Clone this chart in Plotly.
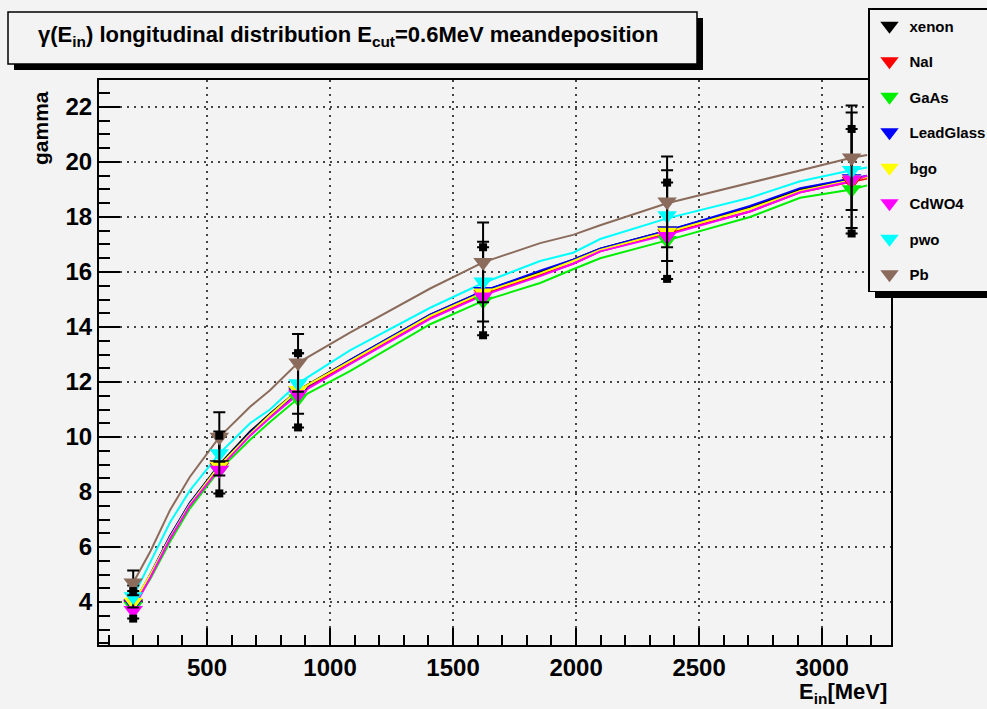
import plotly.graph_objects as go

# ---------------- data ----------------
series_names = ["xenon", "NaI", "GaAs", "LeadGlass", "bgo", "CdWO4", "pwo", "Pb"]
series_colors = ["#000000", "#ff0000", "#00ee00", "#0000ff", "#ffff00", "#ff00ff", "#00ffff", "#8b6b5b"]

curve_x = [200, 270, 350, 430, 550, 675, 756, 870, 1081, 1407, 1622, 1854, 1988, 2098, 2370, 2707, 2911, 3120, 3183]
curve_xenon = [3.9, 5.0, 6.4, 7.6, 9.0, 10.2, 10.85, 11.7, 12.8, 14.45, 15.3, 16.0, 16.45, 16.85, 17.5, 18.35, 19.0, 19.4, 19.45]
curve_NaI = [3.85, 4.95, 6.35, 7.55, 8.9, 10.1, 10.75, 11.6, 12.7, 14.35, 15.2, 15.9, 16.3, 16.75, 17.4, 18.2, 18.9, 19.3, 19.4]
curve_GaAs = [3.85, 4.85, 6.2, 7.4, 8.8, 9.9, 10.55, 11.4, 12.4, 14.1, 14.95, 15.6, 16.1, 16.5, 17.15, 18.0, 18.7, 19.0, 19.15]
curve_LeadGlass = [3.9, 5.0, 6.4, 7.6, 8.95, 10.15, 10.8, 11.65, 12.8, 14.45, 15.3, 16.05, 16.45, 16.85, 17.5, 18.4, 19.05, 19.4, 19.5]
curve_bgo = [3.95, 5.0, 6.35, 7.55, 8.95, 10.1, 10.8, 11.7, 12.75, 14.4, 15.25, 15.95, 16.4, 16.8, 17.45, 18.3, 18.95, 19.35, 19.45]
curve_CdWO4 = [3.75, 4.9, 6.3, 7.5, 8.85, 10.05, 10.7, 11.55, 12.65, 14.3, 15.15, 15.85, 16.3, 16.75, 17.35, 18.2, 18.9, 19.3, 19.5]
curve_pwo = [4.2, 5.45, 6.9, 8.05, 9.4, 10.5, 11.0, 11.95, 13.15, 14.7, 15.6, 16.4, 16.7, 17.2, 17.95, 18.7, 19.3, 19.7, 19.8]
curve_Pb = [4.7, 5.85, 7.35, 8.55, 10.0, 11.1, 11.7, 12.7, 13.8, 15.4, 16.35, 17.05, 17.35, 17.7, 18.5, 19.25, 19.7, 20.15, 20.25]

point_x = [200, 550, 870, 1622, 2370, 3120]
point_xenon = [3.9, 9.0, 11.7, 15.3, 17.5, 19.3]
point_NaI = [3.9, 8.9, 11.6, 15.2, 17.4, 19.3]
point_GaAs = [3.85, 8.8, 11.4, 14.95, 17.15, 19.0]
point_LeadGlass = [3.95, 8.95, 11.65, 15.3, 17.5, 19.4]
point_bgo = [4.0, 8.95, 11.7, 15.25, 17.45, 19.35]
point_CdWO4 = [3.7, 8.8, 11.55, 15.1, 17.3, 19.35]
point_pwo = [4.2, 9.4, 11.95, 15.65, 18.05, 19.7]
point_Pb = [4.7, 10.0, 12.7, 16.35, 18.55, 20.15]

err_xenon = [0.5, 1.05, 1.35, 1.6, 1.75, 1.9]
err_pwo = [0.4, 0.8, 1.1, 1.45, 1.65, 2.1]
err_Pb = [0.45, 0.9, 1.05, 1.45, 1.65, 1.9]

x_tick_vals = [500, 1000, 1500, 2000, 2500, 3000]
y_tick_vals = [4, 6, 8, 10, 12, 14, 16, 18, 20, 22]

curves = [curve_xenon, curve_NaI, curve_GaAs, curve_LeadGlass, curve_bgo, curve_CdWO4, curve_pwo, curve_Pb]
points = [point_xenon, point_NaI, point_GaAs, point_LeadGlass, point_bgo, point_CdWO4, point_pwo, point_Pb]
errors = {"xenon": err_xenon, "pwo": err_pwo, "Pb": err_Pb}

# ---------------- layout geometry (pixels) ----------------
W, H = 987, 709
L, R, T, B = 99, 891, 80, 645
pw, ph = R - L, B - T


def px(xp):
    return (xp - L) / pw


def py(yp):
    return (B - yp) / ph


BG = "#f3f3f3"
FONT = "Liberation Sans"
LEG_L = 868

fig = go.Figure()

# curves
for name, col, cy in zip(series_names, series_colors, curves):
    fig.add_trace(go.Scatter(x=curve_x, y=cy, mode="lines",
                             line=dict(color=col, width=2),
                             showlegend=False, hoverinfo="skip"))

# markers with error bars
for name, col, pyv in zip(series_names, series_colors, points):
    err = errors.get(name)
    fig.add_trace(go.Scatter(
        x=point_x, y=pyv, mode="markers", name=name, legendgroup=name,
        marker=dict(symbol="triangle-down", size=17, color=col, line=dict(width=0)),
        error_y=(dict(type="data", array=err, visible=True, color="black", thickness=2, width=6)
                 if err else dict(visible=False)),
    ))

# black squares at ends of xenon error bars
sq_x = point_x + point_x
sq_y = [v + e for v, e in zip(point_xenon, err_xenon)] + [v - e for v, e in zip(point_xenon, err_xenon)]
fig.add_trace(go.Scatter(x=sq_x, y=sq_y, mode="markers", showlegend=False,
                         marker=dict(symbol="square", size=8, color="black")))

shapes = []
# title box with shadow
shapes.append(dict(type="rect", xref="paper", yref="paper", x0=px(14), x1=px(703), y0=py(18), y1=py(70),
                   fillcolor="black", line=dict(width=0), layer="above"))
shapes.append(dict(type="rect", xref="paper", yref="paper", x0=px(8), x1=px(697), y0=py(12), y1=py(64),
                   fillcolor=BG, line=dict(color="black", width=1.5), layer="above"))
# legend shadow
shapes.append(dict(type="rect", xref="paper", yref="paper", x0=px(LEG_L + 7), x1=px(1000), y0=py(14), y1=py(298),
                   fillcolor="black", line=dict(width=0), layer="above"))

annotations = [
    dict(text="<b>γ(E<sub>in</sub>) longitudinal distribution E<sub>cut</sub>=0.6MeV meandeposition</b>",
         xref="paper", yref="paper", x=px(348), y=py(36), showarrow=False,
         font=dict(family=FONT, size=22, color="black"), xanchor="center", yanchor="middle"),
    dict(text="<b>gamma</b>", xref="paper", yref="paper", x=px(40), y=py(128), showarrow=False,
         textangle=-90, font=dict(family=FONT, size=21, color="black"), xanchor="center", yanchor="middle"),
    dict(text="<b>E<sub>in</sub>[MeV]</b>", xref="paper", yref="paper", x=px(889), y=py(693), showarrow=False,
         font=dict(family=FONT, size=22, color="black"), xanchor="right", yanchor="middle"),
]

fig.update_layout(
    width=W, height=H,
    margin=dict(l=L, r=W - R, t=T, b=H - B, autoexpand=False),
    paper_bgcolor=BG, plot_bgcolor=BG,
    shapes=shapes, annotations=annotations,
    showlegend=True,
    legend=dict(x=px(LEG_L), y=py(8), xanchor="left", yanchor="top",
                bgcolor=BG, bordercolor="black", borderwidth=1.5,
                font=dict(family=FONT, size=15, color="black", weight="bold"),
                tracegroupgap=13, itemsizing="trace"),
    xaxis=dict(range=[61, 3280], tickmode="array", tickvals=x_tick_vals,
               ticks="inside", ticklen=17, tickwidth=2, tickcolor="black",
               showline=True, linecolor="black", linewidth=2, mirror=True,
               showgrid=True, gridcolor="#444444", gridwidth=1.5, griddash="2px,5px",
               zeroline=False,
               tickfont=dict(family=FONT, size=24, color="black", weight="bold"),
               minor=dict(dtick=100, ticks="inside", ticklen=10, tickwidth=2, tickcolor="black", showgrid=False)),
    yaxis=dict(range=[2.44, 22.98], tickmode="array", tickvals=y_tick_vals,
               ticks="inside", ticklen=21, tickwidth=2, tickcolor="black",
               showline=True, linecolor="black", linewidth=2, mirror=True,
               showgrid=True, gridcolor="#444444", gridwidth=1.5, griddash="2px,5px",
               zeroline=False,
               tickfont=dict(family=FONT, size=24, color="black", weight="bold"),
               minor=dict(dtick=0.5, ticks="inside", ticklen=11, tickwidth=2, tickcolor="black", showgrid=False)),
)

fig.write_html("out.html")
